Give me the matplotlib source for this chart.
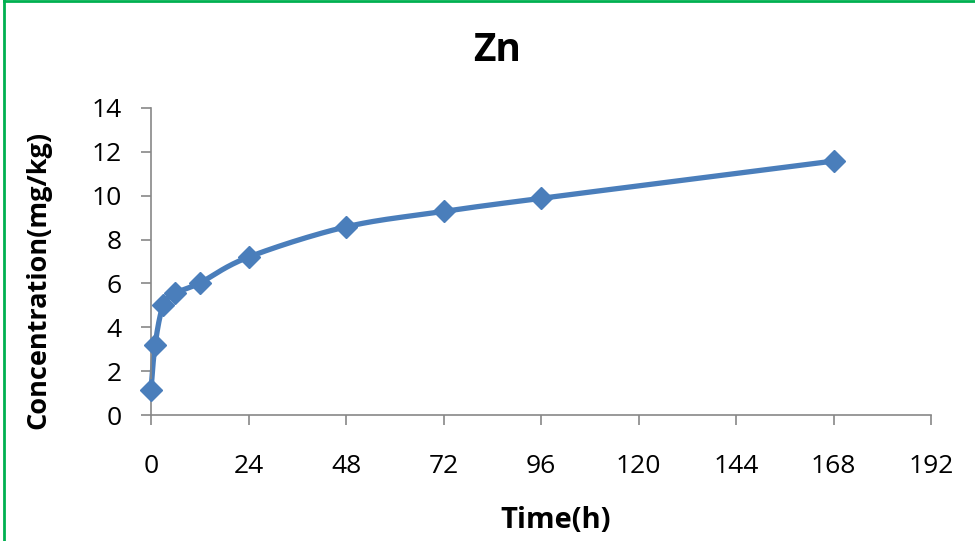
import numpy as np
import matplotlib
matplotlib.use("Agg")
import matplotlib.pyplot as plt
from matplotlib.lines import Line2D

# data
time_h = [0, 1, 3, 6, 12, 24, 48, 72, 96, 168]
conc = [1.15, 3.2, 5.0, 5.55, 6.02, 7.2, 8.58, 9.28, 9.88, 11.58]
x_ticks = [0, 24, 48, 72, 96, 120, 144, 168, 192]
y_ticks = [0, 2, 4, 6, 8, 10, 12, 14]

blue = "#4A7EBB"
grey = "#878787"

plt.rcParams['font.family'] = ['Open Sans', 'DejaVu Sans']


# smoothed line like the spreadsheet does it (cardinal spline through the points)
def smooth(xs, ys, n=30, t=0.5):
    xs = np.asarray(xs, float)
    ys = np.asarray(ys, float)
    px = np.concatenate([[xs[0]], xs, [xs[-1]]])
    py = np.concatenate([[ys[0]], ys, [ys[-1]]])
    out_x, out_y = [], []
    for i in range(1, len(px) - 2):
        p0, p1, p2, p3 = (np.array([px[j], py[j]]) for j in range(i - 1, i + 3))
        c1 = p1 + (p2 - p0) * t / 3
        c2 = p2 - (p3 - p1) * t / 3
        s = np.linspace(0, 1, n)[:, None]
        seg = (1 - s) ** 3 * p1 + 3 * (1 - s) ** 2 * s * c1 + 3 * (1 - s) * s ** 2 * c2 + s ** 3 * p2
        out_x.extend(seg[:, 0])
        out_y.extend(seg[:, 1])
    return out_x, out_y


fig = plt.figure(figsize=(9.75, 5.41), dpi=100)
ax = fig.add_axes([0.1549, 0.2329, 0.8, 0.5675])

sx, sy = smooth(time_h, conc)
ax.plot(sx, sy, color=blue, lw=3.8, solid_capstyle='round', zorder=2, clip_on=False)
ax.plot(time_h, conc, ls='none', marker='D', ms=11, color=blue, zorder=3, clip_on=False)

ax.set_xlim(0, 192)
ax.set_ylim(0, 14)
ax.set_xticks(x_ticks)
ax.set_yticks(y_ticks)
ax.tick_params(axis='x', length=7, width=1.2, color=grey, pad=21, labelsize=19)
ax.tick_params(axis='y', length=7, width=1.2, color=grey, pad=14, labelsize=19)
for side in ['top', 'right']:
    ax.spines[side].set_visible(False)
for side in ['left', 'bottom']:
    ax.spines[side].set_color(grey)
    ax.spines[side].set_linewidth(1.2)

fig.text(497 / 975, 1 - 50 / 541, "Zn", fontsize=28, fontweight='bold', ha='center', va='center')
ax.set_xlabel("Time(h)", fontsize=21, fontweight='bold', va='center')
ax.xaxis.set_label_coords(0.519, -0.345)
ax.set_ylabel("Concentration(mg/kg)", fontsize=19.5, fontweight='bold', va='center')
ax.yaxis.set_label_coords(-0.144, 0.44)

# green frame edges visible in the original
fig.add_artist(Line2D([0.0045, 0.0045], [0, 1], color="#00B050", lw=2, transform=fig.transFigure))
fig.add_artist(Line2D([0.0045, 1], [0.998, 0.998], color="#00B050", lw=2, transform=fig.transFigure))

fig.savefig("out.png", dpi=100)
